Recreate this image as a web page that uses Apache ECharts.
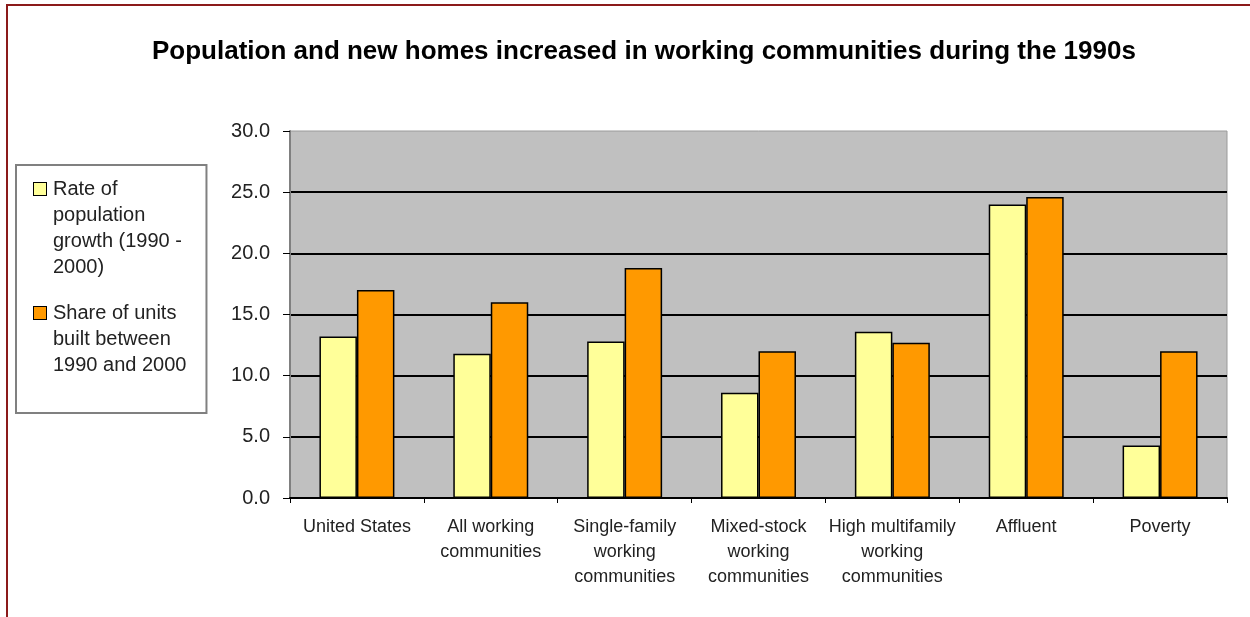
<!DOCTYPE html>
<html>
<head>
<meta charset="utf-8">
<script src="https://cdn.jsdelivr.net/npm/echarts@6/dist/echarts.min.js"></script>
<style>
html, body { margin: 0; padding: 0; background: #fff; }
#chart { width: 1250px; height: 617px; }
</style>
</head>
<body>
<div id="chart"></div>
<script>
var categories = ['United States', 'All working\ncommunities', 'Single-family\nworking\ncommunities',
    'Mixed-stock\nworking\ncommunities', 'High multifamily\nworking\ncommunities', 'Affluent', 'Poverty'];
var popGrowth = [13.2, 11.8, 12.8, 8.6, 13.6, 24.0, 4.3];
var unitsShare = [17.0, 16.0, 18.8, 12.0, 12.7, 24.6, 12.0];
var yMin = 0, yMax = 30, yStep = 5;

var popName = 'Rate of population growth (1990 - 2000)';
var unitsName = 'Share of units built between 1990 and 2000';
var legendLines = {};
legendLines[popName] = ['Rate of', 'population', 'growth (1990 -', '2000)'];
legendLines[unitsName] = ['Share of units', 'built between', '1990 and 2000'];
var legendKey = {};
legendKey[popName] = 'sqA';
legendKey[unitsName] = 'sqB';

var font = "'Liberation Sans', Arial, sans-serif";

window.addEventListener('load', function() {
    var myChart = echarts.init(document.getElementById('chart'));
    var option = {
        animation: false,
        textStyle: { fontFamily: font },
        title: {
            text: 'Population and new homes increased in working communities during the 1990s',
            left: 152,
            top: 39,
            padding: 0,
            textStyle: { fontFamily: font, fontSize: 26, fontWeight: 'bold', color: '#000' }
        },
        legend: {
            orient: 'vertical',
            left: 16,
            top: 165,
            padding: [14, 20, 38, 12],
            itemGap: 26,
            itemWidth: 0,
            itemHeight: 0,
            icon: 'rect',
            selectedMode: false,
            borderColor: '#808080',
            borderWidth: 2,
            backgroundColor: '#fff',
            data: [popName, unitsName],
            formatter: function(name) {
                return legendLines[name].map(function(line, i) {
                    return (i === 0 ? '{' + legendKey[name] + '|}' : '{sp|}') + '{t|' + line + '}';
                }).join('\n');
            },
            textStyle: {
                rich: {
                    sqA: { width: 12, height: 12, backgroundColor: '#ffff99', borderColor: '#000', borderWidth: 1, verticalAlign: 'middle' },
                    sqB: { width: 12, height: 12, backgroundColor: '#ff9900', borderColor: '#000', borderWidth: 1, verticalAlign: 'middle' },
                    sp: { width: 12, height: 12 },
                    t: { fontFamily: font, fontSize: 20, lineHeight: 26, color: '#222', padding: [0, 0, 0, 7], verticalAlign: 'middle' }
                }
            }
        },
        grid: {
            left: 290,
            right: 23,
            top: 131,
            bottom: 119,
            show: true,
            backgroundColor: '#c0c0c0',
            borderColor: '#9a9a9a',
            borderWidth: 1
        },
        xAxis: {
            type: 'category',
            data: categories,
            axisLine: { lineStyle: { color: '#000', width: 2 } },
            axisTick: { show: true, length: 5, lineStyle: { color: '#000' } },
            axisLabel: {
                margin: 17,
                fontFamily: font,
                fontSize: 18,
                lineHeight: 25,
                color: '#222',
                interval: 0
            }
        },
        yAxis: {
            type: 'value',
            min: yMin,
            max: yMax,
            interval: yStep,
            axisLine: { show: true, lineStyle: { color: '#808080', width: 2 } },
            axisTick: { show: true, length: 7, lineStyle: { color: '#000' } },
            axisLabel: {
                margin: 20,
                fontFamily: font,
                fontSize: 20,
                color: '#222',
                formatter: function(v) { return v.toFixed(1); }
            },
            splitLine: { show: true, showMaxLine: false, lineStyle: { color: '#000', width: 2 } }
        },
        series: [{
            name: popName,
            type: 'bar',
            data: popGrowth,
            barWidth: '28%',
            barGap: '0%',
            itemStyle: { color: '#ffff99', borderColor: '#000', borderWidth: 1.5 }
        }, {
            name: unitsName,
            type: 'bar',
            data: unitsShare,
            barWidth: '28%',
            barGap: '0%',
            itemStyle: { color: '#ff9900', borderColor: '#000', borderWidth: 1.5 }
        }],
        graphic: [{
            type: 'polyline',
            silent: true,
            shape: { points: [[7, 617], [7, 5], [1250, 5]] },
            style: { stroke: '#8b1a1a', lineWidth: 2, fill: null }
        }]
    };
    myChart.setOption(option);
});
</script>
</body>
</html>
